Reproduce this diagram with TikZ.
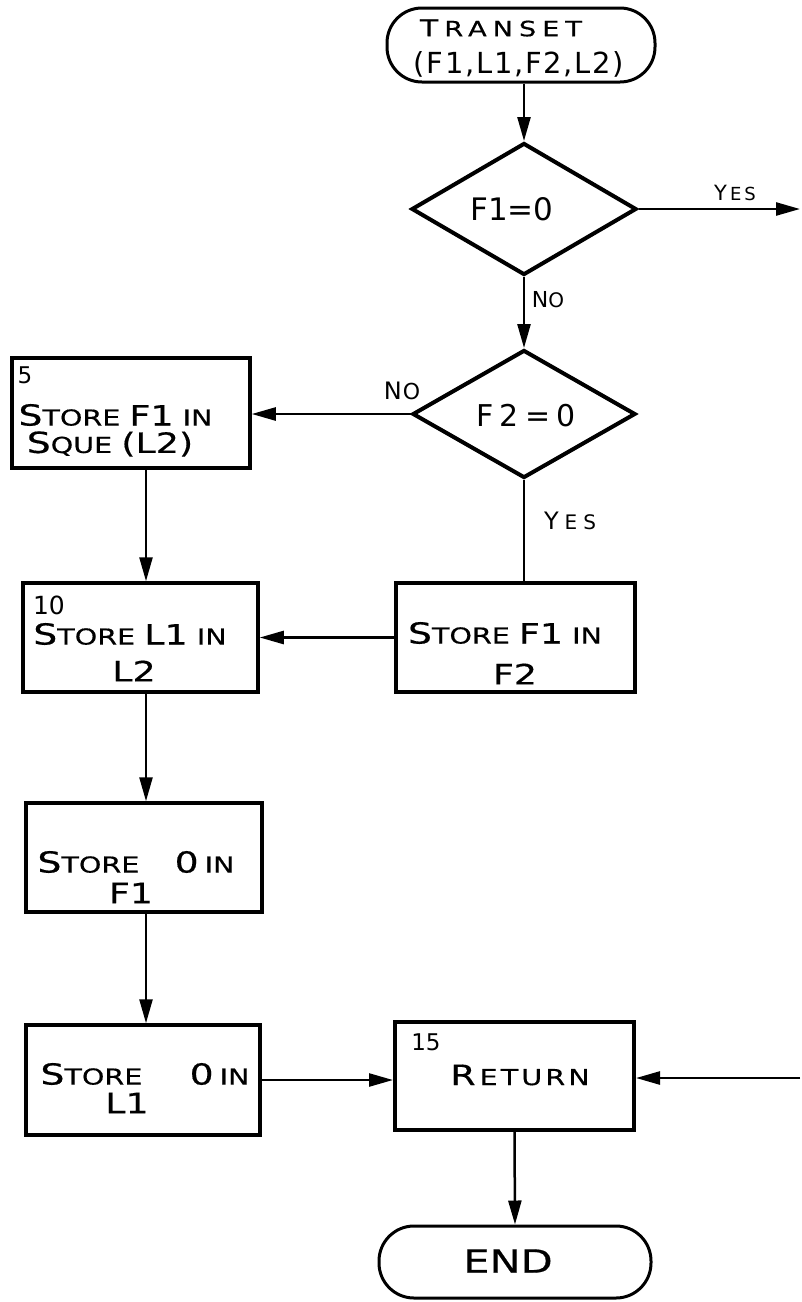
\documentclass[tikz,border=0pt]{standalone}
\usepackage{fontspec}
\usetikzlibrary{shapes.geometric,arrows.meta}
\setmainfont{DejaVu Sans}
\newfontfamily\hand{DejaVu Sans}[FakeStretch=1.3,FakeBold=0.5]
\newcommand\sz[1]{\fontsize{#1}{#1}\selectfont}
\newcommand\Bg[1]{{\sz{29}#1}}
\newcommand\Md[1]{{\sz{28}#1}}
\newcommand\ls[2]{{\addfontfeature{LetterSpace=#1}#2}}
\newcommand\wbox[2]{\makebox[#1][s]{#2}}
\begin{document}
\begin{tikzpicture}[x=1pt,y=-1pt,
  box/.style={draw,line width=3.5pt,rectangle,inner sep=0pt},
  term/.style={draw,line width=3pt,rectangle,rounded corners=35pt,inner sep=0pt},
  dec/.style={draw,line width=4pt,diamond,inner sep=0pt},
  arr/.style={line width=2.5pt,-{Triangle[length=24pt,width=13pt]}},
  ln/.style={line width=2.5pt},
  txt/.style={inner sep=0pt,font=\hand\sz{22}},
  lab/.style={inner sep=0pt,font=\sz{18}}
]
\useasboundingbox[fill=white] (0,0) rectangle (802,1302);

% shapes
\node[term,minimum width=268pt,minimum height=74pt] (start) at (521,45) {};
\node[dec,minimum width=225pt,minimum height=132pt] (d1) at (524,209) {};
\node[dec,minimum width=223pt,minimum height=128pt] (d2) at (524,414) {};
\node[box,minimum width=238pt,minimum height=110pt] (b5) at (131,413) {};
\node[box,minimum width=235pt,minimum height=109pt] (b10) at (140.5,637.5) {};
\node[box,minimum width=239pt,minimum height=109pt] (f2) at (515.5,637.5) {};
\node[box,minimum width=236pt,minimum height=109pt] (f1z) at (144,857.5) {};
\node[box,minimum width=234pt,minimum height=110pt] (l1) at (143,1080) {};
\node[box,line width=4pt,minimum width=239pt,minimum height=108pt] (ret) at (514.5,1076) {};
\node[term,minimum width=272pt,minimum height=72pt] (endN) at (515,1262) {};

\coordinate (yesEnd) at (800,209);
\coordinate (retIn) at (800,1078);
\coordinate (colL) at (146,0);

% texts
\node[txt,font=\hand\sz{21}] (tS1) at (501,28) {{\sz{23}T}\kern6pt\ls{28}{RANSET}};
\node[txt,font=\rmfamily\sz{29}] (tS2) at (519,64) {\ls{6}{(F1,L1,F2,L2)}};
\node[txt,font=\rmfamily\sz{31}] (tD1) at (512,209) {F1=0};
\node[txt,font=\rmfamily\sz{30}] (tD2) at (526,416) {\ls{20}{F2=0}};
\node[lab] (tYes1) at (735,193) {{\sz{21}Y}\kern3pt E\kern3pt S};
\node[lab] (tNo1) at (548,300) {{\sz{22}N}{\sz{20}O}};
\node[lab] (tNo2) at (402,391) {{\sz{24}N}\kern1pt{\sz{22}O}};
\node[lab,font=\sz{20}] (tYes2) at (570,521) {{\sz{24}Y}\kern6pt E\kern6pt S};

\node[txt,font=\rmfamily\sz{23}] (t5n) at (25,375) {5};
\node[txt] (t5a) at (115.5,415) {\Bg{S}TORE\ \Md{F1}\ IN};
\node[txt] (t5b) at (110,444) {\Bg{S}QUE \Md{(L2)}};

\node[txt,font=\rmfamily\sz{25}] (t10n) at (49,605) {10};
\node[txt] (t10a) at (130,634) {\Bg{S}TORE\ \Md{L1}\ IN};
\node[txt] (t10b) at (134,671) {\Md{L2}};

\node[txt] (tf2a) at (505,633) {\Bg{S}TORE\ \Md{F1}\ IN};
\node[txt] (tf2b) at (515,674) {\Md{F2}};

\node[txt] (tf1a) at (136,862) {\wbox{197pt}{\Bg{S}TORE \Bg{0}\kern6pt IN}};
\node[txt] (tf1b) at (131,893) {\Md{F1}};

\node[txt] (tl1a) at (145,1074) {\wbox{209pt}{\Bg{S}TORE \Bg{0}\kern6pt IN}};
\node[txt] (tl1b) at (127,1103) {\Md{L1}};

\node[txt,font=\rmfamily\sz{23}] (t15) at (426,1042) {15};
\node[txt] (tret) at (520,1075) {{\sz{28}R}\kern4pt\ls{14}{ETURN}};
\node[txt,font=\hand\sz{32}] (tend) at (508,1261) {END};

% connectors
\draw[arr] (start.south -| d1.north) -- (d1.north);
\draw[arr] (d1.east) -- (yesEnd);
\draw[arr] (d1.south) -- (d2.north);
\draw[arr] (d2.west) -- (d2.west -| b5.east);
\draw[arr] (b5.south -| colL) -- (b10.north -| colL);
\draw[ln] (d2.south) -- (d2.south |- f2.north);
\draw[arr] (f2.west) -- (b10.east);
\draw[arr] (b10.south -| colL) -- (f1z.north -| colL);
\draw[arr] (f1z.south -| colL) -- (l1.north -| colL);
\draw[arr] (l1.east) -- (l1.east -| ret.west);
\draw[arr] (retIn) -- (retIn -| ret.east);
\draw[arr] (ret.south) -- (endN.north);
\end{tikzpicture}
\end{document}
